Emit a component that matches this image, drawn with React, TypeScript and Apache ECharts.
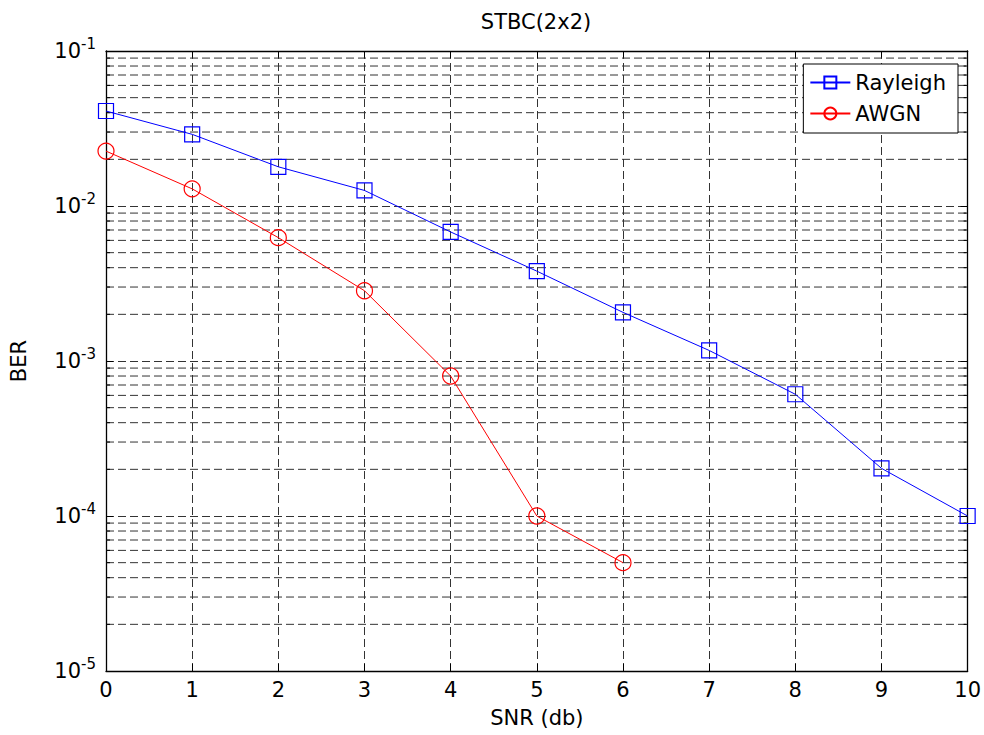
import React, { useEffect, useRef } from "react";
import * as echarts from "echarts";

const snr = [0, 1, 2, 3, 4, 5, 6, 7, 8, 9, 10];
const rayleighBer = [0.041, 0.029, 0.0179, 0.0126, 0.0068, 0.0038, 0.00206, 0.00117, 0.00061, 0.000203, 0.0001];
const awgnSnr = [0, 1, 2, 3, 4, 5, 6];
const awgnBer = [0.0226, 0.0129, 0.00625, 0.00284, 0.0008, 0.0001, 0.00005];
const decades = [1e-5, 1e-4, 1e-3, 1e-2];
const multipliers = [2, 3, 4, 5, 6, 7, 8, 9];
const xTicks = [0, 1, 2, 3, 4, 5, 6, 7, 8, 9, 10];

const FONT = "DejaVu Sans";
const minorValues: number[] = [];
decades.forEach((d) => multipliers.forEach((m) => minorValues.push(+(d * m).toPrecision(3))));

export default function App() {
  const ref = useRef<HTMLDivElement>(null);
  useEffect(() => {
    if (!ref.current) return;
    const chart = echarts.init(ref.current, null, { renderer: "svg" });
    const gridStyle = { type: [8, 4] as any, color: "#333", width: 1 };
    const option: any = {
      animation: false,
      backgroundColor: "#fff",
      title: {
        text: "STBC(2x2)",
        left: 536,
        textAlign: "center",
        top: 11,
        padding: 0,
        textStyle: { fontFamily: FONT, fontSize: 21, fontWeight: "normal", color: "#000" },
      },
      legend: {
        orient: "vertical",
        right: 26,
        top: 64,
        padding: [8, 12, 9, 6],
        itemGap: 10,
        itemWidth: 40,
        itemHeight: 15,
        backgroundColor: "#fff",
        borderColor: "#000",
        borderWidth: 1,
        borderRadius: 0,
        textStyle: { fontFamily: FONT, fontSize: 21, color: "#000" },
        data: ["Rayleigh", "AWGN"],
      },
      grid: { left: 102.5, right: 14, top: 51, bottom: 64, containLabel: false },
      xAxis: [
        {
          type: "value",
          min: 0,
          max: 10,
          interval: 1,
          name: "SNR (db)",
          nameLocation: "middle",
          nameGap: 36,
          nameTextStyle: { fontFamily: FONT, fontSize: 21, color: "#000" },
          axisLine: { show: true, onZero: false, lineStyle: { color: "#000", width: 1.3 } },
          axisTick: { show: true, inside: true, length: 7, lineStyle: { color: "#000" } },
          axisLabel: { fontFamily: FONT, fontSize: 21, color: "#000", margin: 8 },
          splitLine: { show: true, lineStyle: gridStyle },
        },
        {
          type: "value",
          position: "top",
          min: 0,
          max: 10,
          interval: 1,
          axisLine: { show: true, onZero: false, lineStyle: { color: "#000", width: 1.3 } },
          axisTick: { show: true, inside: true, length: 7, lineStyle: { color: "#000" } },
          axisLabel: { show: false },
          splitLine: { show: false },
        },
      ],
      yAxis: [
        {
          type: "log",
          logBase: 10,
          min: 1e-5,
          max: 1e-1,
          splitNumber: 4,
          name: "BER",
          nameLocation: "middle",
          nameRotate: 90,
          nameGap: 77,
          nameTextStyle: { fontFamily: FONT, fontSize: 21, color: "#000" },
          axisLine: { show: true, onZero: false, lineStyle: { color: "#000", width: 1.3 } },
          axisTick: { show: true, inside: true, length: 7, lineStyle: { color: "#000" } },
          axisLabel: {
            margin: 10,
            formatter: (v: number) => `{b|10}{s|${Math.round(Math.log10(v))}}`,
            rich: {
              b: { fontFamily: FONT, fontSize: 21, color: "#000", lineHeight: 30 },
              s: { fontFamily: FONT, fontSize: 15, color: "#000", lineHeight: 10, verticalAlign: "top" },
            },
          },
          splitLine: { show: true, lineStyle: gridStyle },
        },
        {
          type: "log",
          logBase: 10,
          min: 1e-5,
          max: 1e-1,
          splitNumber: 4,
          position: "right",
          axisLine: { show: true, onZero: false, lineStyle: { color: "#000", width: 1.3 } },
          axisTick: { show: true, inside: true, length: 7, lineStyle: { color: "#000" } },
          axisLabel: { show: false },
          splitLine: { show: false },
        },
      ],
      series: [
        {
          name: "minorGrid",
          type: "custom",
          silent: true,
          z: 1,
          data: minorValues.map((v) => [0, v]),
          encode: { x: 0, y: 1 },
          renderItem: (params: any, api: any) => {
            const v = api.value(1);
            const pl = api.coord([0, v]);
            const pr = api.coord([10, v]);
            return {
              type: "group",
              children: [
                {
                  type: "line",
                  shape: { x1: pl[0], y1: pl[1], x2: pr[0], y2: pr[1] },
                  style: { stroke: "#333", lineWidth: 1, lineDash: [8, 4] },
                },
                {
                  type: "line",
                  shape: { x1: pl[0], y1: pl[1], x2: pl[0] + 4, y2: pl[1] },
                  style: { stroke: "#000", lineWidth: 1 },
                },
                {
                  type: "line",
                  shape: { x1: pr[0] - 4, y1: pr[1], x2: pr[0], y2: pr[1] },
                  style: { stroke: "#000", lineWidth: 1 },
                },
              ],
            };
          },
        },
        {
          name: "Rayleigh",
          type: "line",
          z: 3,
          data: snr.map((x, i) => [x, rayleighBer[i]]),
          symbol: "rect",
          symbolSize: 15,
          lineStyle: { color: "#0000ff", width: 1 },
          itemStyle: { color: "rgba(0,0,0,0)", borderColor: "#0000ff", borderWidth: 1.2 },
        },
        {
          name: "AWGN",
          type: "line",
          z: 3,
          data: awgnSnr.map((x, i) => [x, awgnBer[i]]),
          symbol: "circle",
          symbolSize: 16,
          lineStyle: { color: "#ff0000", width: 1 },
          itemStyle: { color: "rgba(0,0,0,0)", borderColor: "#ff0000", borderWidth: 1.2 },
        },
      ],
    };
    chart.setOption(option);
    return () => chart.dispose();
  }, []);
  return (
    <div
      ref={ref}
      style={{ position: "fixed", left: 0, top: 0, width: 984, height: 735, background: "#fff" }}
    />
  );
}
